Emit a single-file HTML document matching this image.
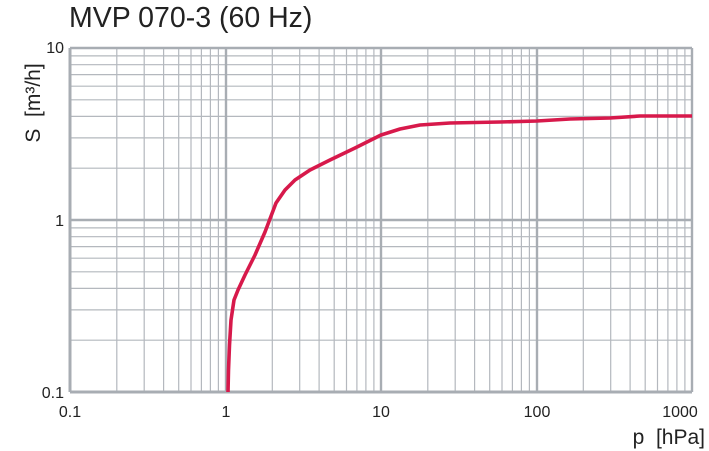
<!DOCTYPE html>
<html><head><style>body{margin:0;background:#fff}svg{display:block}</style></head><body>
<svg width="709" height="451" xmlns="http://www.w3.org/2000/svg" font-family="Liberation Sans, sans-serif">
<text x="69" y="27" font-size="28.5" fill="#222">MVP 070-3 (60 Hz)</text>
<path id="gridpath" fill="none" stroke="#b4b8be" stroke-width="1.2" d=""/>
<g stroke="#a8adb3" stroke-width="2.4">
<line x1="70" y1="48" x2="70" y2="392" stroke-width="3"/>
<line x1="226" y1="48" x2="226" y2="392"/>
<line x1="381" y1="48" x2="381" y2="392"/>
<line x1="537" y1="48" x2="537" y2="392"/>
<line x1="692" y1="48" x2="692" y2="392"/>
<line x1="70" y1="48" x2="692" y2="48"/>
<line x1="70" y1="220" x2="692" y2="220"/>
<line x1="70" y1="392" x2="692" y2="392" stroke-width="3"/>
</g>
<path fill="none" stroke="#d7194b" stroke-width="3.6" stroke-linejoin="round" d="M228 392 L228.5 370 L229.5 345 L231 320 L234 300 L238 290 L245 275 L255 255 L265 232 L276 203 L285 190 L295 180 L310 170 L330 160 L355 148 L381 135 L400 129 L420 125 L450 123 L500 122 L537 121 L570 119 L610 118 L640 116 L692 116"/>
<g font-size="16" fill="#222" text-anchor="middle">
<text x="70" y="417">0.1</text><text x="226" y="417">1</text><text x="381" y="417">10</text><text x="537" y="417">100</text><text x="680" y="417">1000</text>
</g>
<text x="705" y="444" text-anchor="end" font-size="21" fill="#222">p&#160;&#160;[hPa]</text>
<g font-size="16" fill="#222" text-anchor="end">
<text x="64" y="53">10</text><text x="64" y="226">1</text><text x="64" y="398">0.1</text>
</g>
<text transform="translate(40,103) rotate(-90)" font-size="21" fill="#222" text-anchor="middle">S&#160;&#160;[m³/h]</text>
<script>
var d="";var L=Math.log10;
for(var dec=0;dec<4;dec++)for(var k=2;k<10;k++){var x=70+155.5*(dec+L(k));d+="M"+x.toFixed(1)+" 48V392";}
for(var dec=0;dec<2;dec++)for(var k=2;k<10;k++){var y=392-172*(dec+L(k));d+="M70 "+y.toFixed(1)+"H692";}
document.getElementById("gridpath").setAttribute("d",d);
</script>
</svg>
</body></html>
